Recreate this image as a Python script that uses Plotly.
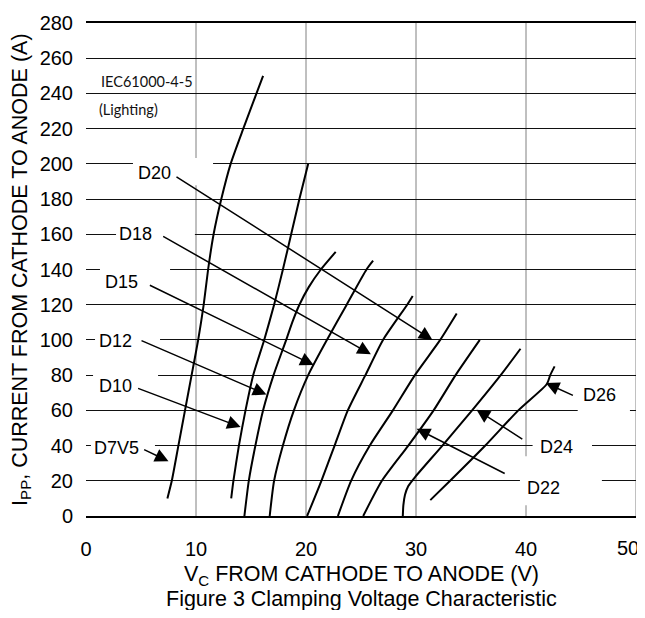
import plotly.graph_objects as go

# ---- data ----
# Clamping voltage Vc (V) vs peak pulse current Ipp (A), one curve per device
d7v5_i = [10, 20, 40, 60, 80, 100, 120, 140, 160, 180, 200, 220, 240, 250]
d7v5_v = [7.4, 7.8, 8.4, 9.0, 9.6, 10.2, 10.7, 11.1, 11.6, 12.3, 13.15, 14.3, 15.5, 16.1]

d10_i = [10, 20, 40, 60, 80, 100, 120, 140, 160, 180, 200]
d10_v = [13.2, 13.4, 13.9, 14.5, 15.2, 16.2, 17.1, 17.9, 18.65, 19.4, 20.2]

d12_i = [0, 20, 40, 60, 80, 100, 110, 120, 130, 140, 150]
d12_v = [14.4, 14.8, 15.4, 16.1, 17.05, 18.2, 18.75, 19.4, 20.25, 21.35, 22.7]

d15_i = [0, 20, 40, 60, 80, 100, 120, 140, 145]
d15_v = [16.7, 17.1, 17.9, 18.9, 20.2, 21.9, 23.7, 25.5, 26.1]

d18_i = [0, 20, 40, 60, 80, 100, 120, 125]
d18_v = [20.1, 21.4, 22.6, 23.8, 25.4, 27.0, 29.2, 29.7]

d20_i = [0, 20, 40, 60, 80, 100, 115]
d20_v = [22.9, 24.1, 25.8, 27.9, 29.9, 32.2, 33.7]

d22_i = [0, 20, 40, 60, 80, 100]
d22_v = [25.2, 26.9, 29.3, 31.6, 33.6, 35.8]

d24_i = [0, 6, 12, 17, 22, 40, 60, 80, 95]
d24_v = [28.8, 28.85, 29.0, 29.3, 29.9, 32.4, 35.1, 37.7, 39.5]

d26_i = [9, 20, 40, 60, 75, 80, 85]
d26_v = [31.3, 33.1, 36.3, 39.3, 41.9, 42.2, 42.6]

# labels: text, text left edge / centre line (V, I), arrow tail (V, I), arrow tip (V, I)
label_text = ["D20", "D18", "D15", "D12", "D10", "D7V5", "D22", "D24", "D26"]
label_v = [4.55, 2.85, 1.55, 1.0, 1.0, 0.55, 39.9, 41.1, 45.0]
label_i = [195, 160.4, 133, 99.3, 73.7, 38.9, 16, 39.4, 68.5]
tail_v = [8.09, 6.88, 5.67, 4.91, 4.6, 5.15, 38.2, 39.8, 44.4]
tail_i = [193.2, 159.3, 131.5, 100, 72.8, 38.1, 23.7, 43.1, 68.1]
tip_v = [31.5, 25.9, 20.7, 16.4, 14.06, 7.5, 30.06, 35.5, 41.8]
tip_i = [100, 91.8, 85.7, 69, 50.5, 31.1, 49.6, 60.4, 75.5]
# white gaps cut into the grid around each label (V0, V1, I0, I1)
gap_v0 = [4.27, 2.73, 1.27, 0.82, 0.64, 0.45, 39.45, 40.6, 44.7]
gap_v1 = [11.55, 9.9, 7.64, 6.73, 6.55, 6.27, 46.9, 46.0, 49.45]
gap_i0 = [187.8, 153.3, 125.6, 92.8, 66.7, 32.2, 6.1, 32.2, 58.3]
gap_i1 = [203.3, 166.7, 143.3, 106.0, 82.2, 45.6, 33.9, 46.7, 76.7]

x_ticks = [0, 10, 20, 30, 40, 50]
x_tick_text = ["0", "10", "20", "30", "40", ""]   # the "50" is drawn as a note, kept inside the page
x_last_tick = 50
x_grid = [10, 20, 30, 40, 50]
y_ticks = list(range(0, 281, 20))

curves = [
    (d7v5_v, d7v5_i), (d10_v, d10_i), (d12_v, d12_i), (d15_v, d15_i),
    (d18_v, d18_i), (d20_v, d20_i), (d22_v, d22_i), (d24_v, d24_i), (d26_v, d26_i),
]

FONT = "Liberation Sans, Arial, sans-serif"

fig = go.Figure()
for v, i in curves:
    fig.add_trace(go.Scatter(
        x=v, y=i, mode="lines",
        line=dict(color="black", width=2, shape="spline", smoothing=0.6),
        hoverinfo="skip", showlegend=False,
    ))

shapes = []
for gx in x_grid:
    shapes.append(dict(type="line", xref="x", yref="paper", x0=gx, x1=gx, y0=0, y1=1,
                       line=dict(color="#808080", width=1), layer="below"))
for a, b, c, d in zip(gap_v0, gap_v1, gap_i0, gap_i1):
    shapes.append(dict(type="rect", xref="x", yref="y", x0=a, x1=b, y0=c, y1=d,
                       fillcolor="white", line=dict(width=0), layer="between"))

annotations = []
for t, lv, li in zip(label_text, label_v, label_i):
    annotations.append(dict(
        x=lv, y=li, xref="x", yref="y", text=t, showarrow=False,
        font=dict(family=FONT, size=18, color="black"),
        xanchor="left", yanchor="middle",
    ))
for tv, ti, hv, hi in zip(tail_v, tail_i, tip_v, tip_i):
    annotations.append(dict(
        x=hv, y=hi, ax=tv, ay=ti, xref="x", yref="y", axref="x", ayref="y",
        text="", showarrow=True, arrowhead=2, arrowsize=1.8, arrowwidth=1.5,
        arrowcolor="black", standoff=0,
    ))

annotations += [
    dict(x=x_last_tick, y=-0.0645, xref="x", yref="paper", text=str(x_last_tick), showarrow=False,
         xanchor="right", yanchor="middle", xshift=4, borderpad=0,
         font=dict(family=FONT, size=20, color="black")),
    dict(x=1.2, y=246.7, xref="x", yref="y", text="IEC61000-4-5", showarrow=False,
         xanchor="left", yanchor="middle",
         font=dict(family="Lato, Carlito, sans-serif", size=14.5, color="#111111")),
    dict(x=1.0, y=231, xref="x", yref="y", text="(Lighting)", showarrow=False,
         xanchor="left", yanchor="middle",
         font=dict(family="Lato, Carlito, sans-serif", size=14.5, color="#111111")),
    dict(x=0.5, y=-0.121, xref="paper", yref="paper", showarrow=False,
         text="V<sub>C</sub> FROM CATHODE TO ANODE (V)", xanchor="center", yanchor="middle",
         font=dict(family=FONT, size=21.5, color="black")),
    dict(x=0.5, y=-0.168, xref="paper", yref="paper", showarrow=False,
         text="Figure 3 Clamping Voltage Characteristic", xanchor="center", yanchor="middle",
         font=dict(family=FONT, size=21.5, color="black")),
    dict(x=-0.1175, y=0.5, xref="paper", yref="paper", showarrow=False, textangle=-90,
         text="I<sub>PP</sub>, CURRENT FROM CATHODE TO ANODE (A)", xanchor="center", yanchor="middle",
         font=dict(family=FONT, size=21.5, color="black")),
]

# page body has an 8px margin on every side: size the figure so the page does not overflow
# and the plot area lands where the reference has it (x 86-636, y 12-516)
fig.update_layout(
    width=637, height=602,
    margin=dict(l=78, r=9, t=4, b=94),
    plot_bgcolor="white", paper_bgcolor="white",
    shapes=shapes, annotations=annotations,
    xaxis=dict(range=[0, 50], tickvals=x_ticks, ticktext=x_tick_text,
               showgrid=False, zeroline=False,
               showline=True, mirror=True, linecolor="black", linewidth=1.5,
               ticks="outside", ticklen=14, tickcolor="rgba(0,0,0,0)",
               tickfont=dict(family=FONT, size=20, color="black")),
    yaxis=dict(range=[0, 280], tickvals=y_ticks, showgrid=True, gridcolor="#111111",
               gridwidth=1, zeroline=False, showline=False,
               ticks="outside", ticklen=8, tickcolor="rgba(0,0,0,0)",
               ticklabeloverflow="allow",
               tickfont=dict(family=FONT, size=20, color="black")),
)

fig.write_html("out.html")
